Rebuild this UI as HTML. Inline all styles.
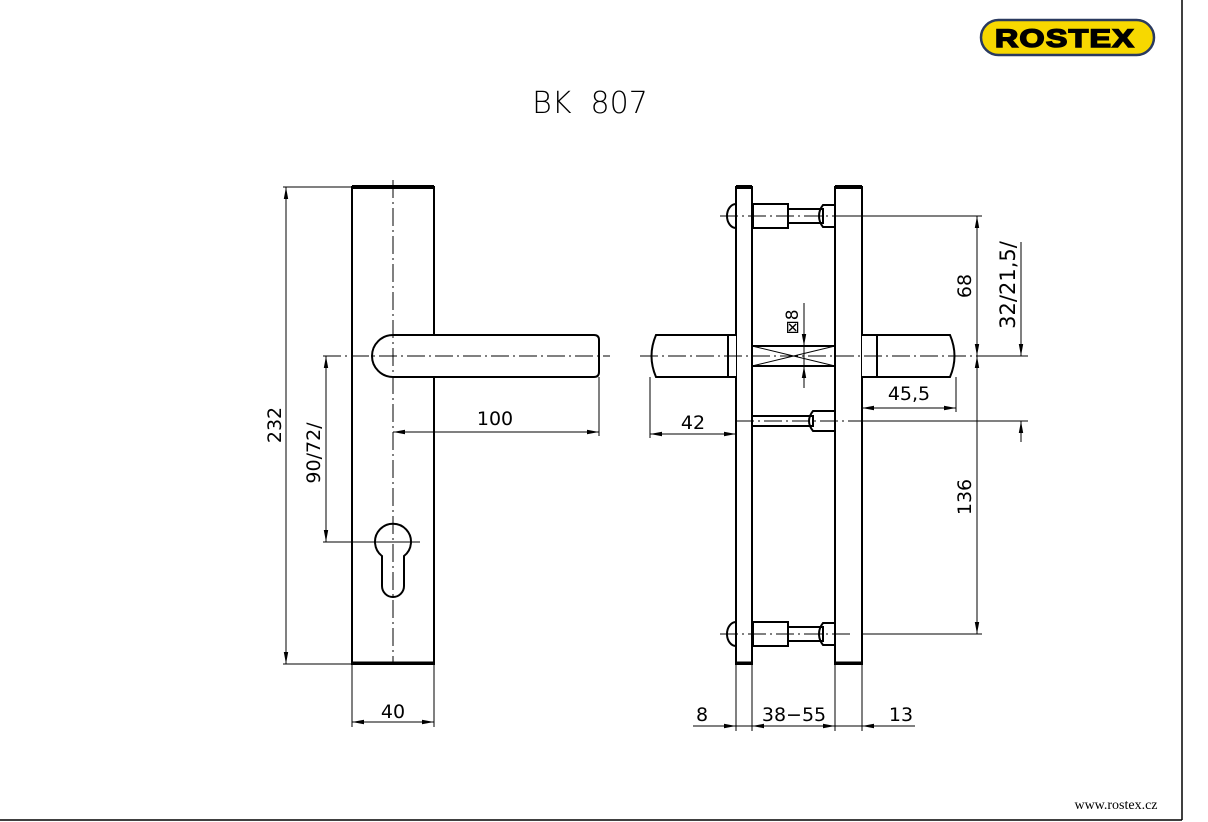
<!DOCTYPE html>
<html><head><style>
body{margin:0;background:#fff;}
svg{display:block}
text{font-family:"DejaVu Sans","Liberation Sans",sans-serif;fill:#000}
</style></head><body>
<svg width="1208" height="822" viewBox="0 0 1208 822" xmlns="http://www.w3.org/2000/svg">
<defs>
<marker id="a" viewBox="0 0 12 6" refX="12" refY="3" markerWidth="12" markerHeight="6" orient="auto-start-reverse" markerUnits="userSpaceOnUse"><path d="M0,0.8L12,3L0,5.2z" fill="#000"/></marker>
</defs>
<line x1="1182" y1="0" x2="1182" y2="820" stroke="#000" stroke-width="1.5"/>
<line x1="0" y1="820" x2="1182" y2="820" stroke="#000" stroke-width="1.5"/>
<!-- logo -->
<rect x="981" y="20" width="173" height="35" rx="17.5" fill="#f7d800" stroke="#2a3a60" stroke-width="2.5"/>
<text x="1065" y="47" text-anchor="middle" font-size="25" letter-spacing="1" style="font-family:'Liberation Sans';font-weight:900;stroke:#000;stroke-width:1.5" textLength="140" lengthAdjust="spacingAndGlyphs">ROSTEX</text>
<text x="1116" y="809" text-anchor="middle" font-size="14" style="font-family:'Liberation Serif'">www.rostex.cz</text>
<text x="590" y="113" text-anchor="middle" font-size="30" font-weight="300">BK&#160;&#160;807</text>

<g fill="none" stroke="#000" stroke-width="2">
<rect x="352" y="187" width="82" height="477"/>
<line x1="352" y1="187" x2="434" y2="187" stroke-width="4"/>
<line x1="352" y1="663" x2="434" y2="663" stroke-width="3"/>
<path d="M393,335 H594 Q599,335 599,340 V372 Q599,377 594,377 H393 A21,21 0 0 1 393,335z" fill="#fff"/>
<path d="M382,556 A18,18 0 1 1 404,556 V586 A11,11 0 0 1 382,586z" fill="#fff"/>
<rect x="736" y="187" width="16" height="477"/>
<rect x="835" y="187" width="27" height="477"/>
<line x1="736" y1="187" x2="752" y2="187" stroke-width="4"/>
<line x1="835" y1="187" x2="862" y2="187" stroke-width="4"/>
<line x1="736" y1="663" x2="752" y2="663" stroke-width="3"/>
<line x1="835" y1="663" x2="862" y2="663" stroke-width="3"/>
<path d="M736,335 H656 Q647,356 656,377 H736" fill="#fff"/>
<line x1="728" y1="335" x2="728" y2="377"/>
<path d="M862,335 H950 Q959,356 950,377 H862" fill="#fff"/>
<line x1="877" y1="335" x2="877" y2="377"/>
<rect x="752" y="346" width="83" height="20"/>
<path d="M752,346 L835,366 M752,366 L835,346" stroke-width="1"/>
<g id="s">
<path d="M736,204 A9,12 0 0 0 736,228" />
<rect x="753" y="204" width="35" height="24"/>
<rect x="788" y="209" width="35" height="14"/>
<path d="M823,205 H835 V227 H823 Q819,222 819,216 Q819,210 823,205z"/>
</g>
<use href="#s" transform="translate(0,418)"/>
<rect x="752" y="416" width="61" height="10"/>
<path d="M813,411 H835 V431 H813 Q809,426 809,421 Q809,416 813,411z"/>
</g>

<g stroke="#000" stroke-width="1" stroke-dasharray="18,4,2,4" fill="none">
<line x1="393" y1="180" x2="393" y2="664"/>
<line x1="323" y1="356" x2="610" y2="356"/>
<line x1="640" y1="356" x2="990" y2="356"/>
<line x1="720" y1="216" x2="850" y2="216"/>
<line x1="720" y1="634" x2="850" y2="634"/>
<line x1="736" y1="421" x2="850" y2="421"/>
</g>
<g stroke="#000" stroke-width="1" fill="none">
<path d="M283,187H352M283,664H352M323,542H420M352,664V727M434,664V727M599,377V436M650,377V438M736,377V438M956,377V412M862,377V412"/>
<path d="M850,216H982M862,634H982M850,421H1028M990,356H1028"/>
<path d="M736,664V731M752,664V731M835,664V731M862,664V731"/>
<path d="M804,303V388"/>
</g>
<g stroke="#000" stroke-width="1" fill="none">
<line x1="286" y1="187" x2="286" y2="664" marker-start="url(#a)" marker-end="url(#a)"/>
<line x1="326" y1="356" x2="326" y2="542" marker-start="url(#a)" marker-end="url(#a)"/>
<line x1="393" y1="432" x2="599" y2="432" marker-start="url(#a)" marker-end="url(#a)"/>
<line x1="352" y1="722" x2="434" y2="722" marker-start="url(#a)" marker-end="url(#a)"/>
<line x1="650" y1="434" x2="736" y2="434" marker-start="url(#a)" marker-end="url(#a)"/>
<line x1="862" y1="408" x2="956" y2="408" marker-start="url(#a)" marker-end="url(#a)"/>
<line x1="977" y1="216" x2="977" y2="356" marker-start="url(#a)" marker-end="url(#a)"/>
<line x1="977" y1="356" x2="977" y2="634" marker-start="url(#a)" marker-end="url(#a)"/>
<line x1="1021" y1="242" x2="1021" y2="356" marker-end="url(#a)"/>
<line x1="1021" y1="442" x2="1021" y2="421" marker-end="url(#a)"/>
<line x1="804" y1="320" x2="804" y2="346" marker-end="url(#a)"/>
<line x1="804" y1="388" x2="804" y2="366" marker-end="url(#a)"/>
<line x1="693" y1="726" x2="915" y2="726"/>
<line x1="716" y1="726" x2="736" y2="726" marker-end="url(#a)"/>
<line x1="772" y1="726" x2="752" y2="726" marker-end="url(#a)"/>
<line x1="815" y1="726" x2="835" y2="726" marker-end="url(#a)"/>
<line x1="882" y1="726" x2="862" y2="726" marker-end="url(#a)"/>
</g>
<g font-size="19">
<text x="495" y="425" text-anchor="middle">100</text>
<text x="393" y="718" text-anchor="middle">40</text>
<text x="693" y="429" text-anchor="middle">42</text>
<text x="909" y="400" text-anchor="middle">45,5</text>
<text x="702" y="721" text-anchor="middle">8</text>
<text x="794" y="721" text-anchor="middle">38−55</text>
<text x="901" y="721" text-anchor="middle">13</text>
<text transform="translate(281,425) rotate(-90)" text-anchor="middle">232</text>
<text transform="translate(320,453) rotate(-90)" text-anchor="middle">90/72/</text>
<text transform="translate(971,286) rotate(-90)" text-anchor="middle">68</text>
<text transform="translate(971,497) rotate(-90)" text-anchor="middle">136</text>
<text transform="translate(1015,285) rotate(-90)" text-anchor="middle" font-size="21">32/21,5/</text>
<text transform="translate(798,322) rotate(-90)" text-anchor="middle" font-size="17">⊠8</text>
</g>
</svg>
</body></html>
